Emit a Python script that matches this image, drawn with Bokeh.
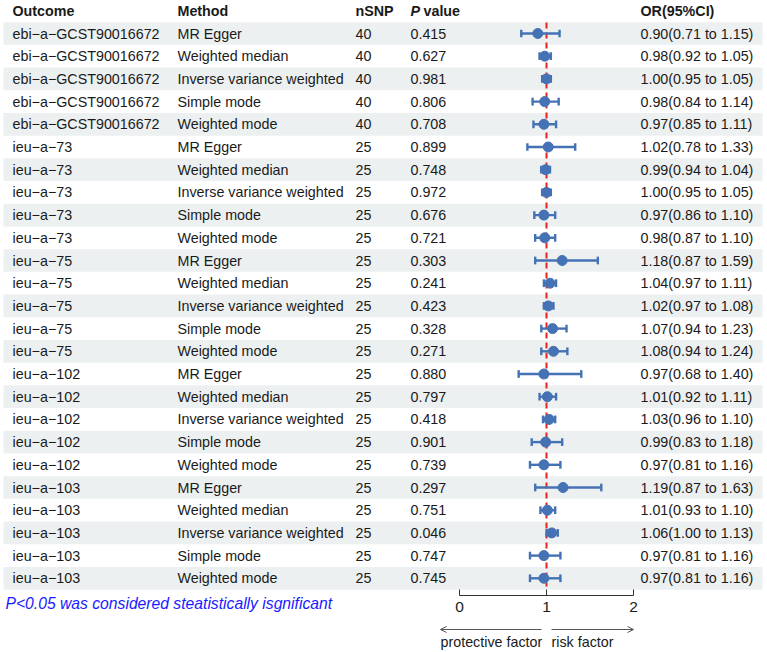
from bokeh.plotting import figure
from bokeh.models import Range1d, Arrow, OpenHead
from bokeh.core.properties import value
from bokeh.embed import file_html
from bokeh.resources import INLINE

outcomes = ["ebi−a−GCST90016672"] * 5 + ["ieu−a−73"] * 5 + ["ieu−a−75"] * 5 + ["ieu−a−102"] * 5 + ["ieu−a−103"] * 5
methods = ["MR Egger", "Weighted median", "Inverse variance weighted", "Simple mode", "Weighted mode"] * 5
nsnp = [40] * 5 + [25] * 20
pvals = ["0.415", "0.627", "0.981", "0.806", "0.708",
         "0.899", "0.748", "0.972", "0.676", "0.721",
         "0.303", "0.241", "0.423", "0.328", "0.271",
         "0.880", "0.797", "0.418", "0.901", "0.739",
         "0.297", "0.751", "0.046", "0.747", "0.745"]
or_est = [0.90, 0.98, 1.00, 0.98, 0.97,
          1.02, 0.99, 1.00, 0.97, 0.98,
          1.18, 1.04, 1.02, 1.07, 1.08,
          0.97, 1.01, 1.03, 0.99, 0.97,
          1.19, 1.01, 1.06, 0.97, 0.97]
or_low = [0.71, 0.92, 0.95, 0.84, 0.85,
          0.78, 0.94, 0.95, 0.86, 0.87,
          0.87, 0.97, 0.97, 0.94, 0.94,
          0.68, 0.92, 0.96, 0.83, 0.81,
          0.87, 0.93, 1.00, 0.81, 0.81]
or_high = [1.15, 1.05, 1.05, 1.14, 1.11,
           1.33, 1.04, 1.05, 1.10, 1.10,
           1.59, 1.11, 1.08, 1.23, 1.24,
           1.40, 1.11, 1.10, 1.18, 1.16,
           1.63, 1.10, 1.13, 1.16, 1.16]
axis_ticks = [0, 1, 2]
headers = ["Outcome", "Method", "nSNP", "OR(95%CI)"]

W, H = 767, 652
X0, SX = 459.0, 87.0       # pixel of OR=0, pixels per OR unit
Y0, SY = 33.0, 22.7        # pixel of row 1 center, pixels per row


def xd(px):
    return (px - X0) / SX


def yd(py):
    return 1 + (py - Y0) / SY


p = figure(width=W, height=H, output_backend="svg", toolbar_location=None,
           x_range=Range1d(xd(0), xd(W)), y_range=Range1d(yd(H), yd(0)),
           min_border=0, x_axis_location=None, y_axis_location=None)
p.grid.visible = False
p.outline_line_color = None
p.background_fill_color = "white"

n = len(outcomes)
rows = list(range(1, n + 1))
FONT = value("Liberation Sans")
FS = "14.3px"
TXT = "#1A1A1A"

# stripes
sx = [(xd(3) + xd(762)) / 2] * len(rows[0::2])
p.rect(x=sx, y=rows[0::2], width=xd(762) - xd(3), height=1.0,
       fill_color="#EDF0F0", line_color=None)

# headers
hx = [xd(12), xd(177), xd(355), xd(640)]
p.text(x=hx, y=[0] * 4, text=headers, text_font=FONT, text_font_size=FS,
       text_font_style="bold", text_baseline="middle", text_color=TXT)
p.text(x=[xd(410)], y=[0], text=["P"], text_font=FONT, text_font_size=FS,
       text_font_style="bold italic", text_baseline="middle", text_color=TXT)
p.text(x=[xd(423)], y=[0], text=["value"], text_font=FONT, text_font_size=FS,
       text_font_style="bold", text_baseline="middle", text_color=TXT)

# body
or_text = ["%.2f(%.2f to %.2f)" % (e, lo, hi) for e, lo, hi in zip(or_est, or_low, or_high)]
for col, xp in [(outcomes, 12), (methods, 177), ([str(v) for v in nsnp], 355),
                (pvals, 410), (or_text, 640)]:
    p.text(x=[xd(xp)] * n, y=rows, text=col, text_font=FONT, text_font_size=FS,
           text_baseline="middle", text_color=TXT)

# reference line
p.segment(x0=[1], y0=[yd(22)], x1=[1], y1=[yd(586)], line_color="#E8231E",
          line_width=2, line_dash="6 4")

# CIs
BLUE = "#4472B4"
p.segment(x0=or_low, y0=rows, x1=or_high, y1=rows, line_color=BLUE, line_width=2.4)
cap = 0.17
p.segment(x0=or_low, y0=[r - cap for r in rows], x1=or_low, y1=[r + cap for r in rows],
          line_color=BLUE, line_width=2.4)
p.segment(x0=or_high, y0=[r - cap for r in rows], x1=or_high, y1=[r + cap for r in rows],
          line_color=BLUE, line_width=2.4)
p.scatter(x=or_est, y=rows, size=10, fill_color=BLUE, line_color=BLUE)

# axis
ya = yd(595)
p.segment(x0=[axis_ticks[0]], y0=[ya], x1=[axis_ticks[-1]], y1=[ya], line_color="#333333", line_width=1)
p.segment(x0=axis_ticks, y0=[yd(589)] * 3, x1=axis_ticks, y1=[ya] * 3, line_color="#333333", line_width=1)
p.text(x=axis_ticks, y=[yd(606)] * 3, text=[str(t) for t in axis_ticks], text_font=FONT,
       text_font_size="15.5px", text_align="center", text_baseline="middle", text_color=TXT)

# arrows
ay = yd(629)
p.add_layout(Arrow(end=OpenHead(size=6, line_color="#555555", line_width=1),
                   x_start=xd(541), y_start=ay, x_end=xd(440), y_end=ay,
                   line_color="#555555", line_width=1))
p.add_layout(Arrow(end=OpenHead(size=6, line_color="#555555", line_width=1),
                   x_start=xd(551), y_start=ay, x_end=xd(633), y_end=ay,
                   line_color="#555555", line_width=1))
p.text(x=[xd(440), xd(551)], y=[yd(641)] * 2, text=["protective factor", "risk factor"],
       text_font=FONT, text_font_size=FS, text_baseline="middle", text_color=TXT)

# footnote
p.text(x=[xd(5)], y=[yd(603)], text=["P<0.05 was considered steatistically isgnificant"],
       text_font=FONT, text_font_size="15.7px", text_font_style="italic",
       text_baseline="middle", text_color="#1A1AFF")

open("out.html", "w").write(file_html(p, INLINE))
